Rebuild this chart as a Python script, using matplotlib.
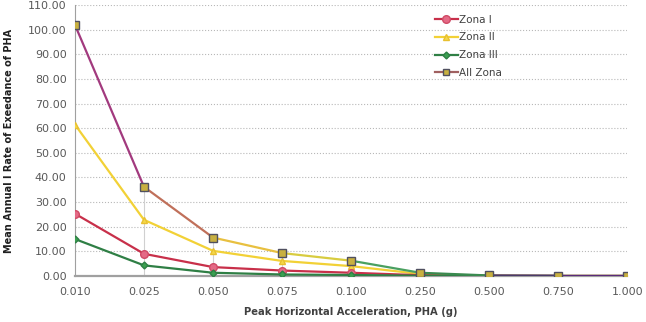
import numpy as np
import matplotlib.pyplot as plt
from matplotlib.lines import Line2D

# PHA categories (g)
pha = ['0.010', '0.025', '0.050', '0.075', '0.100', '0.250', '0.500', '0.750', '1.000']

# Mean annual rate of exceedance per zone
zona_1 = [25.3, 9.0, 3.6, 2.2, 1.3, 0.3, 0.05, 0.0, 0.0]
zona_2 = [61.5, 22.8, 10.2, 6.1, 4.0, 0.8, 0.1, 0.0, 0.0]
zona_3 = [15.0, 4.3, 1.3, 0.6, 0.4, 0.1, 0.0, 0.0, 0.0]
all_zona = [102.0, 36.2, 15.6, 9.3, 6.2, 1.3, 0.2, 0.1, 0.1]

# segment colours of the "All Zona" line (gradient-looking in the original)
all_seg_colors = ['#a23a7e', '#c0705a', '#e8c040', '#d8cc40', '#4aa060',
                  '#3a8a50', '#4a3a6a', '#5a2a7a']

x = np.arange(len(pha))

fig = plt.figure(figsize=(6.46, 3.22), dpi=100)
ax = fig.add_axes([0.116, 0.143, 0.855, 0.841])

tick_color = '#595959'

# drop lines from All Zona points
ax.vlines(x[1:], 0, all_zona[1:], color='#d0d0d0', lw=0.8, zorder=1)

ax.plot(x, zona_2, color='#f2d136', lw=1.6, marker='^', ms=5,
        mfc='#f5d84a', mec='#e8c030', zorder=3)
ax.plot(x, zona_1, color='#c8304a', lw=1.6, marker='o', ms=5.5,
        mfc='#e46a86', mec='#d04a66', zorder=4)
ax.plot(x, zona_3, color='#2f7f45', lw=1.6, marker='D', ms=3.5,
        mfc='#3aa050', mec='#2f7f45', zorder=4)

for i, c in enumerate(all_seg_colors):
    ax.plot(x[i:i + 2], all_zona[i:i + 2], color=c, lw=1.6, zorder=5)
ax.plot(x, all_zona, ls='none', marker='s', ms=5.5, mfc='#c8b040',
        mec='#505060', mew=1.0, zorder=6)

ax.set_xlim(0, len(pha) - 1)
ax.set_ylim(0, 110)
ax.set_yticks(np.arange(0, 111, 10))
ax.set_yticklabels(['%.2f' % v for v in np.arange(0, 111, 10)])
ax.set_xticks(x)
ax.set_xticklabels(pha)
ax.tick_params(axis='both', length=0, labelsize=8, colors=tick_color, pad=6)
ax.tick_params(axis='x', pad=8)

ax.grid(axis='y', color='#b8b8b8', ls=':', lw=0.8)
ax.grid(axis='x', visible=False)
for s in ['top', 'right']:
    ax.spines[s].set_visible(False)
ax.spines['left'].set_color('#a0a0a0')
ax.spines['bottom'].set_color('#a0a0a0')
ax.spines['bottom'].set_linewidth(1.6)
ax.set_axisbelow(True)

ax.set_xlabel('Peak Horizontal Acceleration, PHA (g)', fontsize=7.2,
              fontweight='bold', color='#404040', labelpad=7)
ax.set_ylabel('Mean Annual l Rate of Exeedance of PHA', fontsize=7,
              fontweight='bold', family='Liberation Sans Narrow',
              color='#202020', labelpad=10)

handles = [
    Line2D([], [], color='#c8304a', lw=1.6, marker='o', ms=5.5,
           mfc='#e46a86', mec='#d04a66'),
    Line2D([], [], color='#f2d136', lw=1.6, marker='^', ms=5,
           mfc='#f5d84a', mec='#e8c030'),
    Line2D([], [], color='#2f7f45', lw=1.6, marker='D', ms=3.5,
           mfc='#3aa050', mec='#2f7f45'),
    Line2D([], [], color='#a06060', lw=1.6, marker='s', ms=5,
           mfc='#c8b040', mec='#505060'),
]
leg = ax.legend(handles, ['Zona I', 'Zona II', 'Zona III', 'All Zona'],
                loc='upper left', bbox_to_anchor=(0.635, 1.0), frameon=False,
                fontsize=7.5, handlelength=2.2, labelspacing=0.75,
                handletextpad=0.1)
for t in leg.get_texts():
    t.set_color('#404040')

fig.savefig('out.png', dpi=100)
